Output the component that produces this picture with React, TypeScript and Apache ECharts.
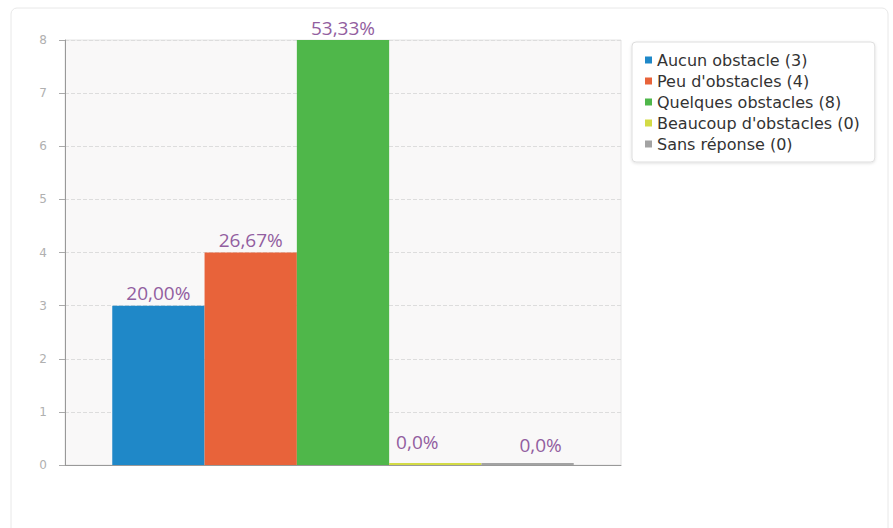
import React, { useEffect, useRef } from "react";
import * as echarts from "echarts";

const seriesNames = [
  "Aucun obstacle (3)",
  "Peu d'obstacles (4)",
  "Quelques obstacles (8)",
  "Beaucoup d'obstacles (0)",
  "Sans réponse (0)",
];
const seriesValues = [3, 4, 8, 0, 0];
const percentLabels = ["20,00%", "26,67%", "53,33%", "0,0%", "0,0%"];
const seriesColors = ["#1f88c8", "#e8633a", "#4fb74a", "#d3db45", "#a3a3a3"];
const labelOffsets: [number, number][] = [[0, 0], [0, 0], [0, 0], [-18, 0], [13, 3]];
const yTicks = [0, 1, 2, 3, 4, 5, 6, 7, 8];

export default function App() {
  const ref = useRef<HTMLDivElement>(null);
  useEffect(() => {
    if (!ref.current) return;
    const chart = echarts.init(ref.current, null, { renderer: "svg" });
    chart.setOption({
      animation: false,
      backgroundColor: "#ffffff",
      graphic: [
        {
          type: "rect",
          silent: true,
          z: -10,
          shape: { x: 11, y: 8, width: 877, height: 540, r: 6 },
          style: { fill: "none", stroke: "#e8e8e8", lineWidth: 1 },
        },
      ],
      grid: {
        left: 65,
        top: 40,
        right: 272,
        bottom: 63,
        show: true,
        backgroundColor: "#f9f8f8",
        borderColor: "#e4e4e4",
        borderWidth: 1,
      },
      legend: {
        orient: "vertical",
        left: 632,
        top: 42,
        padding: [10, 15, 10, 13],
        itemWidth: 7,
        itemHeight: 7,
        itemGap: 5,
        icon: "rect",
        backgroundColor: "#ffffff",
        borderColor: "#dddddd",
        borderWidth: 1,
        borderRadius: 4,
        shadowBlur: 3,
        shadowColor: "rgba(0,0,0,0.12)",
        shadowOffsetY: 1,
        textStyle: { fontFamily: "DejaVu Sans", fontSize: 16, color: "#333333" },
        data: seriesNames,
      },
      xAxis: {
        type: "category",
        data: [""],
        axisLine: { show: true, lineStyle: { color: "#999999" } },
        axisTick: { show: false },
        axisLabel: { show: false },
        splitLine: { show: false },
      },
      yAxis: {
        type: "value",
        min: yTicks[0],
        max: yTicks[yTicks.length - 1],
        interval: 1,
        axisLine: { show: true, lineStyle: { color: "#999999" } },
        axisTick: { show: true, length: 6, lineStyle: { color: "#aaaaaa" } },
        axisLabel: {
          margin: 18,
          color: "#b0b0b0",
          fontFamily: "DejaVu Sans",
          fontSize: 12,
        },
        splitLine: { show: true, lineStyle: { color: "#dddddd", type: "dashed" } },
      },
      series: seriesNames.map((name, i) => ({
        name,
        type: "bar",
        data: [seriesValues[i]],
        barGap: "0%",
        barCategoryGap: "17%",
        barMinHeight: 2,
        itemStyle: { color: seriesColors[i] },
        label: {
          show: true,
          position: "top",
          distance: seriesValues[i] === 0 ? 12 : 3,
          offset: labelOffsets[i],
          formatter: () => percentLabels[i],
          color: "#925ea0",
          fontFamily: "Open Sans",
          fontSize: 19,
        },
      })),
    });
    return () => chart.dispose();
  }, []);
  return (
    <div
      ref={ref}
      style={{ position: "absolute", left: 0, top: 0, width: 893, height: 528 }}
    />
  );
}
